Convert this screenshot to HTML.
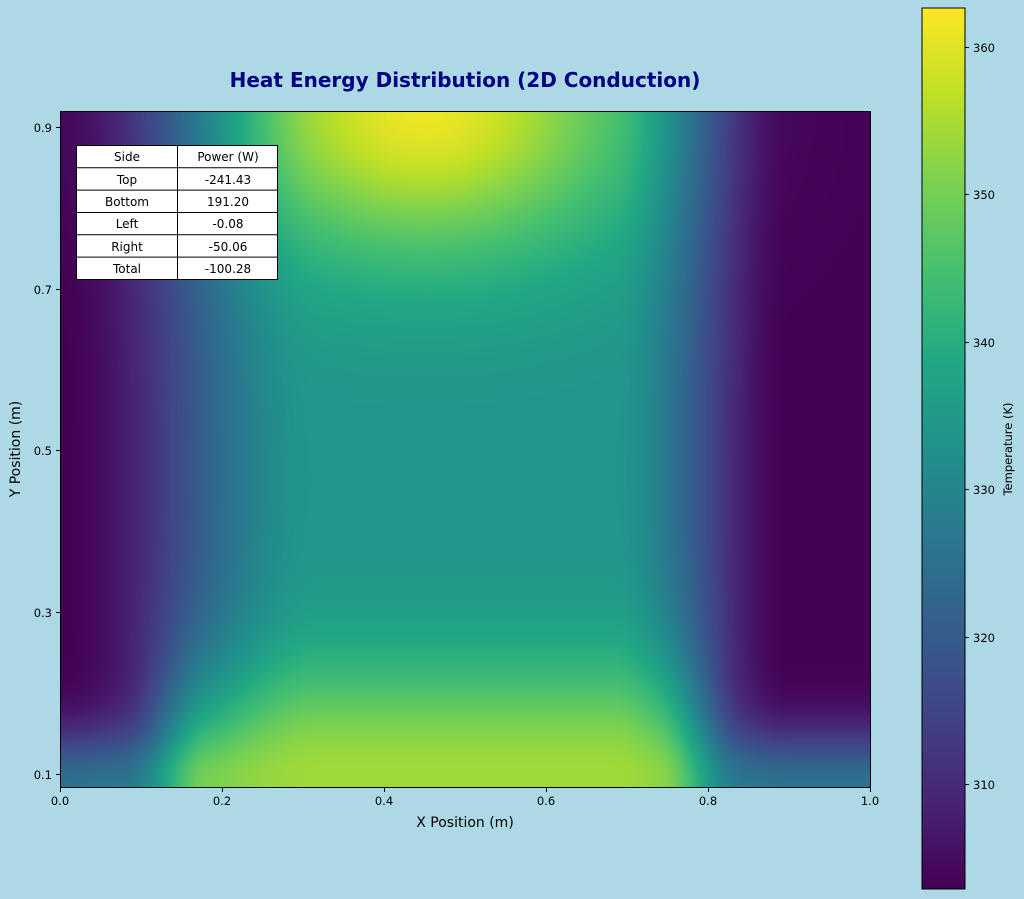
<!DOCTYPE html>
<html><head><meta charset="utf-8"><style>
body{margin:0;background:#add8e6;width:1024px;height:899px;overflow:hidden;font-family:"DejaVu Sans","Liberation Sans",sans-serif;}
#c{position:absolute;left:60px;top:111px;}
svg{position:absolute;left:0;top:0;}
</style></head><body>
<canvas id="c" width="810" height="676"></canvas>
<svg width="1024" height="899" xmlns="http://www.w3.org/2000/svg" font-family="DejaVu Sans, Liberation Sans, sans-serif">
<defs><linearGradient id="v" x1="0" y1="1" x2="0" y2="0">
<stop offset="0" stop-color="#440154"/><stop offset="0.1" stop-color="#482475"/><stop offset="0.2" stop-color="#414487"/><stop offset="0.3" stop-color="#355f8d"/><stop offset="0.4" stop-color="#2a788e"/><stop offset="0.5" stop-color="#21918c"/><stop offset="0.6" stop-color="#22a884"/><stop offset="0.7" stop-color="#44bf70"/><stop offset="0.8" stop-color="#7ad151"/><stop offset="0.9" stop-color="#bddf26"/><stop offset="1" stop-color="#fde725"/>
</linearGradient></defs>
<text x="465" y="87" text-anchor="middle" font-size="20" font-weight="bold" fill="#000080">Heat Energy Distribution (2D Conduction)</text>
<rect x="60.5" y="111.5" width="810" height="676" fill="none" stroke="#000" stroke-width="1"/>
<g stroke="#000" stroke-width="1">
<line x1="60.5" y1="788" x2="60.5" y2="792"/><line x1="222.5" y1="788" x2="222.5" y2="792"/><line x1="384.5" y1="788" x2="384.5" y2="792"/><line x1="546.5" y1="788" x2="546.5" y2="792"/><line x1="708.5" y1="788" x2="708.5" y2="792"/><line x1="870.5" y1="788" x2="870.5" y2="792"/>
<line x1="56" y1="127.5" x2="60" y2="127.5"/><line x1="56" y1="289.5" x2="60" y2="289.5"/><line x1="56" y1="450.5" x2="60" y2="450.5"/><line x1="56" y1="612.5" x2="60" y2="612.5"/><line x1="56" y1="774.5" x2="60" y2="774.5"/>
</g>
<g font-size="11.5" fill="#000" text-anchor="middle">
<text x="60" y="805">0.0</text><text x="222" y="805">0.2</text><text x="384" y="805">0.4</text><text x="546" y="805">0.6</text><text x="708" y="805">0.8</text><text x="870" y="805">1.0</text>
</g>
<g font-size="11.5" fill="#000" text-anchor="end">
<text x="52" y="132">0.9</text><text x="52" y="294">0.7</text><text x="52" y="455">0.5</text><text x="52" y="617">0.3</text><text x="52" y="779">0.1</text>
</g>
<text x="465" y="827" text-anchor="middle" font-size="14">X Position (m)</text>
<text transform="translate(20,449) rotate(-90)" text-anchor="middle" font-size="14">Y Position (m)</text>
<g font-size="12" text-anchor="middle">
<rect x="76.5" y="145.5" width="201" height="134" fill="#fff" stroke="#000"/>
<g stroke="#000"><line x1="177.5" y1="145" x2="177.5" y2="280"/><line x1="76" y1="167.8" x2="278" y2="167.8"/><line x1="76" y1="190.1" x2="278" y2="190.1"/><line x1="76" y1="212.5" x2="278" y2="212.5"/><line x1="76" y1="234.8" x2="278" y2="234.8"/><line x1="76" y1="257.1" x2="278" y2="257.1"/></g>
<text x="127" y="161">Side</text><text x="228" y="161">Power (W)</text>
<text x="127" y="184">Top</text><text x="228" y="184">-241.43</text>
<text x="127" y="206">Bottom</text><text x="228" y="206">191.20</text>
<text x="127" y="228">Left</text><text x="228" y="228">-0.08</text>
<text x="127" y="251">Right</text><text x="228" y="251">-50.06</text>
<text x="127" y="273">Total</text><text x="228" y="273">-100.28</text>
</g>
<rect x="922" y="8" width="43" height="881" fill="url(#v)" stroke="#000" stroke-width="1"/>
<g stroke="#000"><line x1="965" y1="784.5" x2="969" y2="784.5"/><line x1="965" y1="637.5" x2="969" y2="637.5"/><line x1="965" y1="489.5" x2="969" y2="489.5"/><line x1="965" y1="342.5" x2="969" y2="342.5"/><line x1="965" y1="194.5" x2="969" y2="194.5"/><line x1="965" y1="47.5" x2="969" y2="47.5"/></g>
<g font-size="11.5"><text x="973" y="789">310</text><text x="973" y="642">320</text><text x="973" y="494">330</text><text x="973" y="347">340</text><text x="973" y="199">350</text><text x="973" y="52">360</text></g>
<text transform="translate(1012,449) rotate(-90)" text-anchor="middle" font-size="11.5">Temperature (K)</text>
</svg>
<script>
var st=[[68,1,84],[72,36,117],[65,68,135],[53,95,141],[42,120,142],[33,145,140],[34,168,132],[68,191,112],[122,209,81],[189,223,38],[253,231,37]];
function cm(t){t=Math.max(0,Math.min(1,t))*10;var i=Math.min(9,Math.floor(t)),f=t-i,a=st[i],b=st[i+1];return [a[0]+(b[0]-a[0])*f,a[1]+(b[1]-a[1])*f,a[2]+(b[2]-a[2])*f];}
function ss(a,b,x){var t=Math.max(0,Math.min(1,(x-a)/(b-a)));return t*t*(3-2*t);}
function T(x,y){
var w=ss(0,0.32,x)*(1-ss(0.68,0.9,x));
var v=303+31*w;
v+=27*Math.exp(-Math.pow((x-0.45)/0.25,2))*Math.exp(-Math.pow((0.92-y)/0.18,2));
v+=20*ss(0.08,0.18,x)*(1-ss(0.74,0.84,x))*Math.exp(-Math.pow((y-0.1)/0.14,2));
v+=22*Math.exp(-Math.pow((y-0.084)/0.07,2))*(1-w);
return v;}
var c=document.getElementById('c'),g=c.getContext('2d'),W=810,H=676,im=g.createImageData(W,H),d=im.data;
for(var j=0;j<H;j++){var y=0.9198-j/808.75;for(var i=0;i<W;i++){var x=i/810;var col=cm((T(x,y)-302.9)/(362.6-302.9));var k=(j*W+i)*4;d[k]=col[0];d[k+1]=col[1];d[k+2]=col[2];d[k+3]=255;}}
g.putImageData(im,0,0);
</script>
</body></html>
